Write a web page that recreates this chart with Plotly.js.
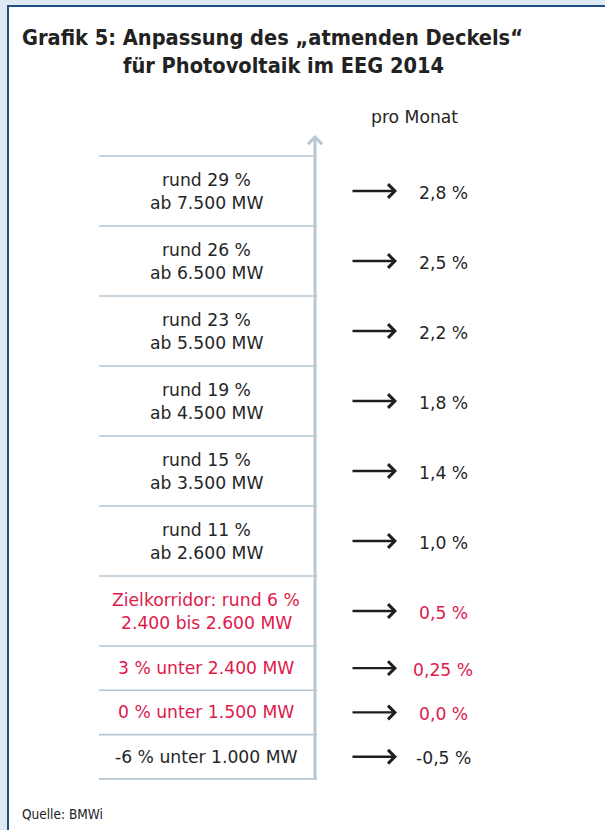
<!DOCTYPE html>
<html>
<head>
<meta charset="utf-8">
<script src="https://cdn.plot.ly/plotly-3.0.1.min.js"></script>
<style>
html,body{margin:0;padding:0;background:#dde9f3;}
#chart{width:605px;height:830px;}
</style>
</head>
<body>
<div id="chart"></div>
<script>
// ---- data ----
const degressionLabels = [
  "rund 29 %", "rund 26 %", "rund 23 %", "rund 19 %", "rund 15 %", "rund 11 %",
  "Zielkorridor: rund 6 %", "3 % unter 2.400 MW", "0 % unter 1.500 MW", "-6 % unter 1.000 MW"
];
const capacityLabels = [
  "ab 7.500 MW", "ab 6.500 MW", "ab 5.500 MW", "ab 4.500 MW", "ab 3.500 MW", "ab 2.600 MW",
  "2.400 bis 2.600 MW", "", "", ""
];
const monthlyRates = ["2,8 %", "2,5 %", "2,2 %", "1,8 %", "1,4 %", "1,0 %", "0,5 %", "0,25 %", "0,0 %", "-0,5 %"];
const highlighted = [false, false, false, false, false, false, true, true, true, false];

const titleLine1 = "Grafik 5: Anpassung des „atmenden Deckels“";
const titleLine2 = "für Photovoltaik im EEG 2014";
const columnHeader = "pro Monat";
const sourceNote = "Quelle: BMWi";

// ---- styles / layout helpers ----
const DARK = "#262626";
const RED = "#e0194b";
const AXIS = "#b5c7d3";
const BODY_FONT = "DejaVu Sans";
const FS = 17.2;

const tableLeft = 99, axisX = 315, arrowX0 = 351, arrowX1 = 397, valueX = 443, labelX = 206;
const tableTop = 156, tallRow = 70, shortRow = 44.3;

const shapes = [];
const annotations = [];

// background panel
shapes.push({type: "rect", xref: "x", yref: "y", x0: 8, x1: 620, y0: 6, y1: 845,
  fillcolor: "#ffffff", line: {color: "#1d4f80", width: 2}, layer: "below"});

let rowTop = tableTop;
shapes.push({type: "line", xref: "x", yref: "y", x0: tableLeft, x1: axisX, y0: rowTop, y1: rowTop,
  line: {color: AXIS, width: 1.6}});
for (let i = 0; i < degressionLabels.length; i++) {
  const twoLine = capacityLabels[i] !== "";
  const h = twoLine ? tallRow : shortRow;
  const mid = rowTop + h / 2;
  const col = highlighted[i] ? RED : DARK;
  if (twoLine) {
    annotations.push({xref: "x", yref: "y", x: labelX, y: mid - 11.5, text: degressionLabels[i], showarrow: false,
      xanchor: "center", yanchor: "middle", font: {family: BODY_FONT, size: FS, color: col}});
    annotations.push({xref: "x", yref: "y", x: labelX, y: mid + 11.5, text: capacityLabels[i], showarrow: false,
      xanchor: "center", yanchor: "middle", font: {family: BODY_FONT, size: FS, color: col}});
  } else {
    annotations.push({xref: "x", yref: "y", x: labelX, y: mid, text: degressionLabels[i], showarrow: false,
      xanchor: "center", yanchor: "middle", font: {family: BODY_FONT, size: FS, color: col}});
  }
  annotations.push({xref: "x", yref: "y", x: valueX, y: mid + 1.5, text: monthlyRates[i], showarrow: false,
    xanchor: "center", yanchor: "middle",
    font: {family: BODY_FONT, size: FS, color: col}});
  annotations.push({xref: "x", yref: "y", axref: "x", ayref: "y", x: arrowX1, y: mid, ax: arrowX0, ay: mid,
    text: "", showarrow: true, arrowhead: 4, arrowsize: 1.15, arrowwidth: 2.3, arrowcolor: "#1e1e1e",
    standoff: 0, startstandoff: 0});
  rowTop += h;
  shapes.push({type: "line", xref: "x", yref: "y", x0: tableLeft, x1: axisX + 2, y0: rowTop, y1: rowTop,
    line: {color: AXIS, width: 1.6}});
}
// vertical axis with arrow
annotations.push({xref: "x", yref: "y", axref: "x", ayref: "y", x: axisX, y: 135, ax: axisX, ay: rowTop + 1,
  text: "", showarrow: true, arrowhead: 4, arrowsize: 0.9, arrowwidth: 3, arrowcolor: AXIS,
  standoff: 0, startstandoff: 0});

// titles and notes
annotations.push({xref: "x", yref: "y", x: 20, y: 37, text: "<b>" + titleLine1 + "</b>", showarrow: false,
  xanchor: "left", yanchor: "middle", font: {family: "DejaVu Sans Condensed, Roboto", size: 21.6, color: "#222"}});
annotations.push({xref: "x", yref: "y", x: 121, y: 65, text: "<b>" + titleLine2 + "</b>", showarrow: false,
  xanchor: "left", yanchor: "middle", font: {family: "DejaVu Sans Condensed, Roboto", size: 21.6, color: "#222"}});
annotations.push({xref: "x", yref: "y", x: 414, y: 117, text: columnHeader, showarrow: false,
  xanchor: "center", yanchor: "middle", font: {family: BODY_FONT, size: FS, color: DARK}});
annotations.push({xref: "x", yref: "y", x: 20, y: 814, text: sourceNote, showarrow: false,
  xanchor: "left", yanchor: "middle", font: {family: "DejaVu Sans Condensed, Roboto", size: 13.5, color: "#222"}});

const layout = {
  width: 605, height: 830,
  margin: {l: 0, r: 0, t: 0, b: 0},
  paper_bgcolor: "#dde9f3", plot_bgcolor: "rgba(0,0,0,0)",
  showlegend: false,
  xaxis: {range: [0, 605], visible: false, fixedrange: true},
  yaxis: {range: [830, 0], visible: false, fixedrange: true},
  shapes: shapes,
  annotations: annotations
};
Plotly.newPlot("chart", [{type: "scatter", x: [], y: [], mode: "markers"}], layout, {staticPlot: true});
</script>
</body>
</html>
